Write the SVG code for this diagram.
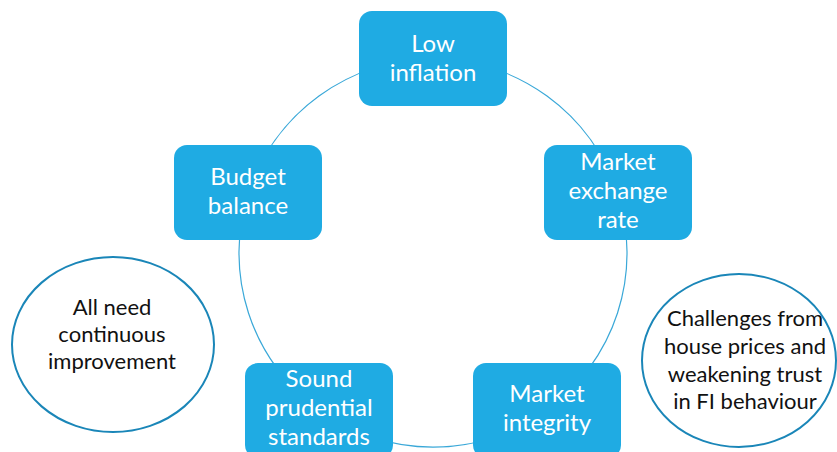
<svg xmlns="http://www.w3.org/2000/svg" width="837" height="452" viewBox="0 0 837 452">
<style>
.box{fill:#1FABE3;}
.bt{font-family:Lato,"Open Sans",sans-serif;font-size:24px;fill:#ffffff;text-anchor:middle;}
.arc{fill:none;stroke:#3AA8D8;stroke-width:1.2;}
.ell{fill:#ffffff;stroke:#1A86B8;stroke-width:2;}
.et{font-family:Lato,"Open Sans",sans-serif;font-size:22px;fill:#111111;text-anchor:middle;}
</style>
<rect width="837" height="452" fill="#ffffff"/>
<g id="connectors">
<path class="arc" d="M433,59 A194,194 0 0 1 617.5,193"/>
<path class="arc" d="M617.5,193 A194,194 0 0 1 547,410"/>
<path class="arc" d="M547,410 A194,194 0 0 1 319,410"/>
<path class="arc" d="M319,410 A194,194 0 0 1 248.5,193"/>
<path class="arc" d="M248.5,193 A194,194 0 0 1 433,59"/>
</g>
<g id="low-inflation">
<rect class="box" x="359" y="11" width="148" height="95" rx="13"/>
<text class="bt" x="433" y="52">Low</text>
<text class="bt" x="433" y="81">inflation</text>
</g>
<g id="market-exchange-rate">
<rect class="box" x="544" y="145" width="148" height="95" rx="13"/>
<text class="bt" x="618" y="170">Market</text>
<text class="bt" x="618" y="199">exchange</text>
<text class="bt" x="618" y="228">rate</text>
</g>
<g id="market-integrity">
<rect class="box" x="473" y="363" width="148" height="95" rx="13"/>
<text class="bt" x="547" y="402">Market</text>
<text class="bt" x="547" y="431">integrity</text>
</g>
<g id="sound-prudential-standards">
<rect class="box" x="245" y="363" width="148" height="95" rx="13"/>
<text class="bt" x="319" y="387">Sound</text>
<text class="bt" x="319" y="416">prudential</text>
<text class="bt" x="319" y="445">standards</text>
</g>
<g id="budget-balance">
<rect class="box" x="174" y="145" width="148" height="95" rx="13"/>
<text class="bt" x="248" y="185">Budget</text>
<text class="bt" x="248" y="214">balance</text>
</g>
<g id="note-improvement">
<ellipse class="ell" cx="113" cy="344.5" rx="101" ry="87.5"/>
<text class="et" x="112" y="315">All need</text>
<text class="et" x="112" y="342">continuous</text>
<text class="et" x="112" y="369">improvement</text>
</g>
<g id="note-challenges">
<ellipse class="ell" cx="739" cy="360.5" rx="97" ry="86.5"/>
<text class="et" x="745" y="326">Challenges from</text>
<text class="et" x="745" y="354">house prices and</text>
<text class="et" x="745" y="382">weakening trust</text>
<text class="et" x="745" y="409">in FI behaviour</text>
</g>
</svg>
